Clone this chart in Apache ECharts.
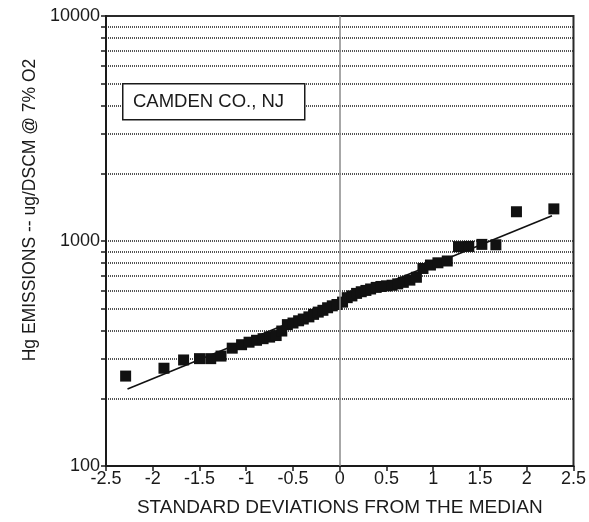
<!DOCTYPE html>
<html>
<head>
<meta charset="utf-8">
<script src="https://cdn.jsdelivr.net/npm/echarts@6/dist/echarts.min.js"></script>
<style>
html,body{margin:0;padding:0;background:#fff;}
#chart{width:589px;height:522px;}
</style>
</head>
<body>
<div id="chart"></div>
<script>
// Standard deviations from the median (normal scores) for each test
const zScores = [-2.29, -1.88, -1.67, -1.50, -1.38, -1.27, -1.15, -1.05, -0.97, -0.89,
  -0.82, -0.75, -0.68, -0.62, -0.56, -0.50, -0.44, -0.39, -0.33, -0.28,
  -0.23, -0.18, -0.13, -0.08, -0.03, 0.03, 0.08, 0.13, 0.18, 0.23,
  0.28, 0.33, 0.39, 0.44, 0.50, 0.56, 0.62, 0.68, 0.75, 0.82,
  0.89, 0.97, 1.05, 1.15, 1.27, 1.38, 1.52, 1.67, 1.89, 2.29];
// Hg emissions, ug/DSCM @ 7% O2
const emissions = [251, 272, 296, 300, 300, 308, 334, 346, 355, 362,
  368, 374, 380, 398, 425, 432, 442, 450, 460, 472,
  483, 492, 505, 515, 522, 535, 560, 570, 585, 595,
  603, 612, 622, 628, 632, 636, 645, 655, 670, 690,
  755, 782, 800, 815, 944, 946, 966, 962, 1349, 1389];
// Fitted log-normal line end points
const fitX = [-2.27, 2.27];
const fitY = [220, 1294];
// Axis ticks
const yTickValues = [100, 200, 300, 400, 500, 600, 700, 800, 900, 1000,
  2000, 3000, 4000, 5000, 6000, 7000, 8000, 9000, 10000];
const yLabelValues = [100, 1000, 10000];
const siteLabel = 'CAMDEN CO., NJ';
const xTitle = 'STANDARD DEVIATIONS FROM THE MEDIAN';
const yTitle = 'Hg EMISSIONS -- ug/DSCM @ 7% O2';

const FONT = "'Liberation Sans', Arial, sans-serif";
const chart = echarts.init(document.getElementById('chart'));
chart.setOption({
  backgroundColor: '#fff',
  animation: false,
  grid: {left: 106, right: 15, top: 16, bottom: 51, show: true, borderColor: '#2a2a2a', borderWidth: 2, backgroundColor: 'transparent'},
  xAxis: {
    type: 'value', min: -2.5, max: 2.5, interval: 0.5,
    name: xTitle, nameLocation: 'middle', nameGap: 32,
    nameTextStyle: {fontFamily: FONT, fontSize: 19, color: '#1a1a1a'},
    axisLine: {show: true, onZero: false, lineStyle: {color: '#1a1a1a', width: 2}},
    axisTick: {show: true, inside: false, length: 5, lineStyle: {color: '#1a1a1a', width: 1.5}},
    axisLabel: {fontFamily: FONT, fontSize: 18, color: '#1a1a1a', margin: 4},
    splitLine: {show: false}
  },
  yAxis: {
    type: 'log', logBase: 10, min: 100, max: 10000,
    name: yTitle, nameLocation: 'middle', nameGap: 66, nameRotate: 90,
    nameTextStyle: {fontFamily: FONT, fontSize: 17.5, color: '#1a1a1a', padding: [0, 0, 0, 62]},
    axisLine: {show: true, onZero: false, lineStyle: {color: '#1a1a1a', width: 2}},
    axisTick: {show: true, inside: false, length: 5, customValues: yTickValues, lineStyle: {color: '#1a1a1a', width: 1.5}},
    axisLabel: {fontFamily: FONT, fontSize: 18, color: '#1a1a1a', margin: 6, customValues: yLabelValues,
      formatter: v => String(Math.round(v))},
    splitLine: {show: true, lineStyle: {color: '#2a2a2a', width: 1.6, type: [1, 1]}},
    minorTick: {show: false}, minorSplitLine: {show: false}
  },
  series: [
    {
      type: 'line',
      data: fitX.map((x, i) => [x, fitY[i]]),
      showSymbol: false, symbol: 'none',
      lineStyle: {color: '#111', width: 1.6},
      z: 3,
      markLine: {
        silent: true, symbol: 'none', label: {show: false},
        lineStyle: {color: '#8a8a8a', width: 1.5, type: 'solid'},
        data: [{xAxis: 0}]
      }
    },
    {
      type: 'scatter',
      data: zScores.map((z, i) => [z, emissions[i]]),
      symbol: 'rect', symbolSize: 11,
      itemStyle: {color: '#111', opacity: 1},
      z: 4
    }
  ],
  graphic: [
    {type: 'rect', left: 122, top: 83, z: 100, zlevel: 1,
      shape: {x: 0, y: 0, width: 182, height: 36},
      style: {fill: '#fff', stroke: '#1a1a1a', lineWidth: 1.5}},
    {type: 'text', left: 133, top: 92, z: 101, zlevel: 1,
      style: {text: siteLabel, font: '18.5px ' + FONT, fill: '#1a1a1a'}}
  ]
});
</script>
</body>
</html>
